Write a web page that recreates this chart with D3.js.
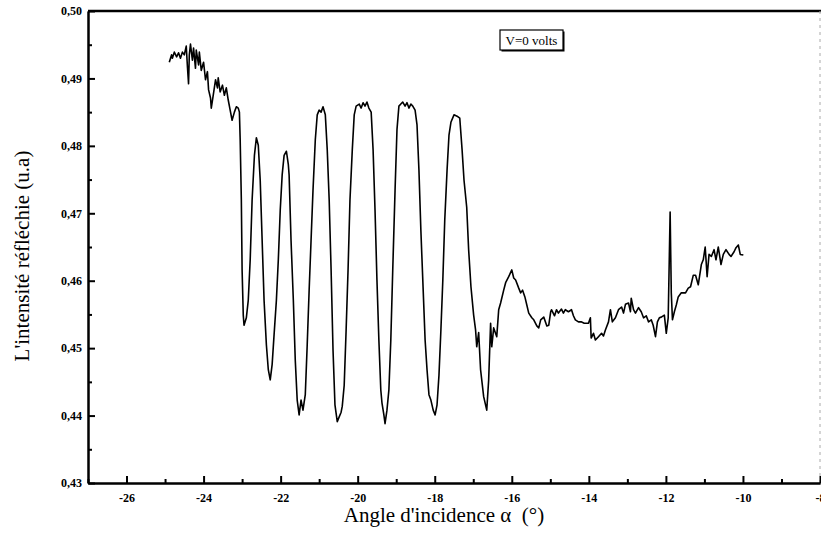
<!DOCTYPE html>
<html>
<head>
<meta charset="utf-8">
<script src="https://cdn.jsdelivr.net/npm/d3@7"></script>
<style>
  body { margin: 0; background: #fff; }
  svg { display: block; }
  .tick text { font-family: "Liberation Serif", "Times New Roman", serif; font-weight: bold; font-size: 12px; fill: #000; }
  .axis path, .axis line { stroke: #000; stroke-width: 2px; }
  .title { font-family: "Liberation Serif", "Times New Roman", serif; font-size: 21px; fill: #000; }
</style>
</head>
<body>
<svg id="chart" width="821" height="535"></svg>
<script>
// angle d'incidence (degres)
const angle = [
  -24.89, -24.83, -24.81, -24.76, -24.70, -24.65, -24.60, -24.55, -24.50, -24.45,
  -24.42, -24.39, -24.37, -24.34, -24.29, -24.26, -24.21, -24.19, -24.13, -24.11,
  -24.06, -24.00, -23.95, -23.90, -23.87, -23.82, -23.80, -23.75, -23.69, -23.64,
  -23.62, -23.57, -23.51, -23.46, -23.41, -23.36, -23.31, -23.26, -23.20, -23.15,
  -23.10, -23.07, -23.05, -23.02, -23.00, -22.97, -22.95, -22.89, -22.84, -22.79,
  -22.74, -22.68, -22.63, -22.58, -22.53, -22.48, -22.43, -22.37, -22.32, -22.27,
  -22.22, -22.17, -22.11, -22.06, -22.01, -21.96, -21.91, -21.85, -21.80, -21.78,
  -21.73, -21.67, -21.62, -21.57, -21.52, -21.47, -21.42, -21.36, -21.31, -21.26,
  -21.21, -21.16, -21.10, -21.05, -21.00, -20.95, -20.90, -20.84, -20.79, -20.74,
  -20.69, -20.64, -20.59, -20.53, -20.48, -20.43, -20.40, -20.35, -20.30, -20.25,
  -20.20, -20.14, -20.09, -20.04, -19.96, -19.91, -19.86, -19.81, -19.76, -19.71,
  -19.65, -19.60, -19.55, -19.50, -19.45, -19.40, -19.37, -19.32, -19.29, -19.24,
  -19.19, -19.14, -19.09, -19.03, -18.98, -18.93, -18.88, -18.83, -18.77, -18.72,
  -18.67, -18.62, -18.57, -18.51, -18.46, -18.41, -18.36, -18.30, -18.25, -18.20,
  -18.15, -18.10, -18.04, -17.99, -17.94, -17.89, -17.84, -17.79, -17.74, -17.68,
  -17.63, -17.58, -17.50, -17.42, -17.35, -17.29, -17.24, -17.17, -17.12, -17.06,
  -16.99, -16.94, -16.91, -16.86, -16.81, -16.73, -16.65, -16.60, -16.55, -16.52,
  -16.47, -16.39, -16.34, -16.29, -16.21, -16.16, -16.08, -16.00, -15.95, -15.90,
  -15.82, -15.77, -15.72, -15.66, -15.61, -15.56, -15.48, -15.43, -15.35, -15.30,
  -15.25, -15.17, -15.09, -15.04, -14.99, -14.97, -14.89, -14.84, -14.79, -14.71,
  -14.66, -14.61, -14.53, -14.45, -14.40, -14.35, -14.27, -14.20, -14.12, -14.01,
  -13.96, -13.94, -13.88, -13.83, -13.75, -13.67, -13.62, -13.57, -13.49, -13.44,
  -13.39, -13.31, -13.23, -13.15, -13.10, -13.05, -12.97, -12.92, -12.90, -12.84,
  -12.79, -12.71, -12.64, -12.58, -12.51, -12.45, -12.38, -12.33, -12.27, -12.22,
  -12.17, -12.12, -12.04, -11.99, -11.94, -11.89, -11.86, -11.83, -11.78, -11.73,
  -11.68, -11.60, -11.49, -11.42, -11.36, -11.29, -11.23, -11.16, -11.08, -11.03,
  -10.98, -10.93, -10.88, -10.82, -10.75, -10.70, -10.64, -10.57, -10.51, -10.44,
  -10.36, -10.31, -10.23, -10.18, -10.12, -10.07, -9.99
];

// intensite reflechie (u.a)
const intensity = [
  0.4924, 0.4935, 0.4930, 0.4939, 0.4932, 0.4938, 0.4930, 0.4939, 0.4935, 0.4948,
  0.4918, 0.4892, 0.4935, 0.4951, 0.4927, 0.4945, 0.4915, 0.4942, 0.4920, 0.4939,
  0.4912, 0.4924, 0.4898, 0.4910, 0.4883, 0.4871, 0.4856, 0.4875, 0.4898, 0.4886,
  0.4901, 0.4880, 0.4890, 0.4875, 0.4886, 0.4868, 0.4853, 0.4838, 0.4850, 0.4858,
  0.4856, 0.4850, 0.4809, 0.4720, 0.4616, 0.4549, 0.4534, 0.4545, 0.4571, 0.4631,
  0.4720, 0.4786, 0.4812, 0.4801, 0.4749, 0.4660, 0.4571, 0.4505, 0.4468, 0.4453,
  0.4476, 0.4520, 0.4571, 0.4631, 0.4705, 0.4757, 0.4786, 0.4792, 0.4772, 0.4757,
  0.4660, 0.4571, 0.4482, 0.4423, 0.4401, 0.4423, 0.4408, 0.4431, 0.4505, 0.4586,
  0.4660, 0.4734, 0.4809, 0.4846, 0.4853, 0.4850, 0.4858, 0.4846, 0.4794, 0.4720,
  0.4616, 0.4497, 0.4416, 0.4391, 0.4398, 0.4405, 0.4414, 0.4445, 0.4527, 0.4616,
  0.4720, 0.4794, 0.4846, 0.4859, 0.4862, 0.4856, 0.4864, 0.4859, 0.4865, 0.4856,
  0.4850, 0.4794, 0.4705, 0.4601, 0.4512, 0.4438, 0.4419, 0.4401, 0.4388, 0.4408,
  0.4438, 0.4512, 0.4616, 0.4734, 0.4824, 0.4859, 0.4862, 0.4865, 0.4859, 0.4864,
  0.4856, 0.4862, 0.4859, 0.4853, 0.4831, 0.4764, 0.4675, 0.4586, 0.4512, 0.4468,
  0.4431, 0.4423, 0.4408, 0.4401, 0.4416, 0.4460, 0.4527, 0.4601, 0.4690, 0.4764,
  0.4816, 0.4835, 0.4846, 0.4844, 0.4841, 0.4794, 0.4749, 0.4709, 0.4646, 0.4591,
  0.4549, 0.4527, 0.4502, 0.4523, 0.4468, 0.4428, 0.4408, 0.4453, 0.4537, 0.4502,
  0.4530, 0.4517, 0.4557, 0.4567, 0.4586, 0.4597, 0.4606, 0.4616, 0.4604, 0.4601,
  0.4589, 0.4582, 0.4586, 0.4576, 0.4564, 0.4552, 0.4545, 0.4542, 0.4533, 0.4530,
  0.4542, 0.4546, 0.4533, 0.4534, 0.4554, 0.4557, 0.4548, 0.4557, 0.4552, 0.4558,
  0.4552, 0.4557, 0.4554, 0.4557, 0.4548, 0.4542, 0.4539, 0.4539, 0.4537, 0.4537,
  0.4545, 0.4515, 0.4522, 0.4512, 0.4517, 0.4522, 0.4518, 0.4527, 0.4539, 0.4557,
  0.4539, 0.4545, 0.4557, 0.4561, 0.4552, 0.4565, 0.4567, 0.4554, 0.4574, 0.4557,
  0.4552, 0.4560, 0.4554, 0.4545, 0.4548, 0.4539, 0.4542, 0.4534, 0.4517, 0.4539,
  0.4545, 0.4546, 0.4549, 0.4522, 0.4545, 0.4702, 0.4582, 0.4542, 0.4554, 0.4564,
  0.4576, 0.4582, 0.4582, 0.4589, 0.4591, 0.4608, 0.4608, 0.4594, 0.4624, 0.4631,
  0.4650, 0.4606, 0.4639, 0.4636, 0.4646, 0.4631, 0.4650, 0.4624, 0.4639, 0.4646,
  0.4639, 0.4636, 0.4643, 0.4649, 0.4653, 0.4639, 0.4638
];

const xMajor = [-26, -24, -22, -20, -18, -16, -14, -12, -10, -8];
const xMinor = [-27, -25, -23, -21, -19, -17, -15, -13, -11, -9];
const yMajor = [0.43, 0.44, 0.45, 0.46, 0.47, 0.48, 0.49, 0.50];
const yMinor = [0.435, 0.445, 0.455, 0.465, 0.475, 0.485, 0.495];
const legendLabel = "V=0 volts";

const plotLeft = 88, plotRight = 820, plotTop = 11, plotBottom = 483;
const svg = d3.select('#chart');

const x = d3.scaleLinear().domain([-27, -8]).range([plotLeft, plotRight]);
const y = d3.scaleLinear().domain([0.43, 0.50]).range([plotBottom, plotTop]);

const fr = d3.formatLocale({ decimal: ",", thousands: ".", grouping: [3], currency: ["", ""], minus: "-" });

// cadre
svg.append('line')
  .attr('x1', plotLeft).attr('x2', 821).attr('y1', plotTop).attr('y2', plotTop)
  .attr('stroke', '#000').attr('stroke-width', 2.5);
svg.append('line')
  .attr('x1', plotRight).attr('x2', plotRight).attr('y1', plotTop).attr('y2', plotBottom)
  .attr('stroke', '#aaa').attr('stroke-width', 1)
  .attr('stroke-dasharray', '3,4');

svg.append('g')
  .attr('class', 'axis')
  .attr('transform', 'translate(0,' + plotBottom + ')')
  .call(d3.axisBottom(x).tickValues(xMinor).tickSizeInner(-4).tickSizeOuter(0).tickFormat(''));

svg.append('g')
  .attr('class', 'axis')
  .attr('transform', 'translate(0,' + plotBottom + ')')
  .call(d3.axisBottom(x).tickValues(xMajor).tickSizeInner(-7).tickSizeOuter(0).tickPadding(10).tickFormat(fr.format('d')));

svg.append('g')
  .attr('class', 'axis')
  .attr('transform', 'translate(' + plotLeft + ',0)')
  .call(d3.axisLeft(y).tickValues(yMinor).tickSizeInner(-4).tickSizeOuter(0).tickFormat(''));

svg.append('g')
  .attr('class', 'axis')
  .attr('transform', 'translate(' + plotLeft + ',0)')
  .call(d3.axisLeft(y).tickValues(yMajor).tickSizeInner(-7).tickSizeOuter(0).tickPadding(6).tickFormat(fr.format('.2f')));

const points = angle.map((a, i) => [a, intensity[i]]);
const line = d3.line()
  .x(d => x(d[0]))
  .y(d => y(d[1]));

svg.append('path')
  .datum(points)
  .attr('d', line)
  .attr('fill', 'none')
  .attr('stroke', '#000')
  .attr('stroke-width', 1.6)
  .attr('stroke-linejoin', 'round');

// titres
svg.append('text')
  .attr('class', 'title')
  .attr('x', 444)
  .attr('y', 522)
  .attr('text-anchor', 'middle')
  .style('white-space', 'pre')
  .text("Angle d'incidence \u03b1  (\u00b0)");

svg.append('text')
  .attr('class', 'title')
  .attr('transform', 'translate(29,256) rotate(-90)')
  .attr('text-anchor', 'middle')
  .text("L'intensit\u00e9 r\u00e9fl\u00e9chie (u.a)");

// legende
const lg = svg.append('g').attr('transform', 'translate(500,30)');
lg.append('rect')
  .attr('x', 1.5).attr('y', 1.5).attr('width', 63).attr('height', 20)
  .attr('fill', '#000');
lg.append('rect')
  .attr('width', 63).attr('height', 20)
  .attr('fill', '#fff').attr('stroke', '#000').attr('stroke-width', 1.2);
lg.append('text')
  .attr('x', 31.5).attr('y', 14.5)
  .attr('text-anchor', 'middle')
  .style('font-family', '"Liberation Serif", "Times New Roman", serif')
  .style('font-size', '13px')
  .text(legendLabel);
</script>
</body>
</html>
